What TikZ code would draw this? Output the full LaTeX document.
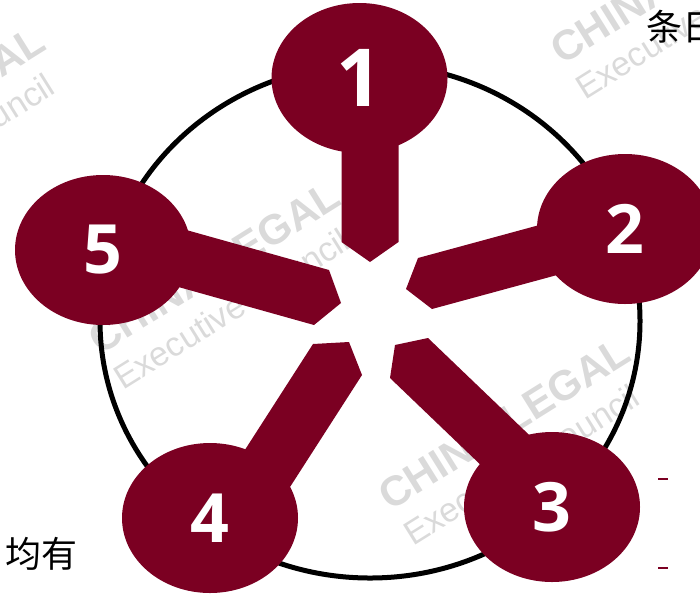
\documentclass[tikz,border=0pt]{standalone}
\usepackage{fontspec}
\usetikzlibrary{shapes.geometric}
\newfontfamily\numfont{Open Sans}
\newfontfamily\wmfont{Liberation Sans}
\newfontfamily\cjk{Noto Sans CJK SC}
\definecolor{wine}{RGB}{123,0,34}
\definecolor{wmgray}{RGB}{218,218,218}
\begin{document}
\begin{tikzpicture}[x=1pt,y=-1pt,
  wmbig/.style={anchor=base west, rotate=32, inner sep=0, text=wmgray,
    font=\wmfont\bfseries\fontsize{42}{42}\selectfont},
  wmsmall/.style={anchor=base west, rotate=32, inner sep=0, text=wmgray,
    font=\wmfont\fontsize{34}{34}\selectfont},
  pin/.style={fill=wine, draw=none},
  blob/.style={ellipse, fill=wine, draw=none, inner sep=0, text=white,
    minimum width=176pt, minimum height=150pt,
    font=\numfont\bfseries\fontsize{68}{68}\selectfont},
  ring/.style={draw=black, line width=5pt},
  cjktext/.style={inner sep=0, text=black, font=\cjk\fontsize{36}{36}\selectfont},
  bullet/.style={fill=wine, draw=none, inner sep=0, minimum width=10pt, minimum height=2.8pt}
]
\useasboundingbox (0,0) rectangle (700,598);
\clip (0,0) rectangle (700,598);
% watermark
\node[wmbig] (w0a) at (100,356) {CHINA LEGAL};
\node[wmsmall] (w0b) at (123,391) {Executive Council};
\node[wmbig] (w1a) at (390,512) {CHINA LEGAL};
\node[wmsmall] (w1b) at (413,547) {Executive Council};
\node[wmbig] (w2a) at (-195,201) {CHINA LEGAL};
\node[wmsmall] (w2b) at (-172,236) {Executive Council};
\node[wmbig] (w3a) at (562,66) {CHINA LEGAL};
\node[wmsmall] (w3b) at (585,101) {Executive Council};
% ring
\draw[ring] (370,321) ellipse [x radius=270pt, y radius=257pt];
% pins
\fill[pin] (341.5,125) -- (341.5,242) -- (370,262) -- (398.5,242) -- (398.5,125) -- cycle;
\fill[pin] (591.7,210.8) -- (418,258) -- (406,289) -- (432,309) -- (605.7,261.8) -- cycle;
\fill[pin] (498,481.5) -- (390,378) -- (395,345) -- (428,338) -- (536,441.5) -- cycle;
\fill[pin] (232,470) -- (313,344) -- (349,342) -- (362,375) -- (283.7,496.8) -- cycle;
\fill[pin] (136.4,216) -- (329,270) -- (341,303) -- (314,325) -- (121.4,271) -- cycle;
% heads
\node[blob, font=\numfont\bfseries\fontsize{80}{80}\selectfont] (n1) at (359.5,78) {1};
\node[blob] (n2) at (625,229) {2};
\node[blob] (n3) at (552,507) {3};
\node[blob] (n4) at (210,518) {4};
\node[blob] (n5) at (103,250) {5};
% edge texts
\node[cjktext, anchor=west] (t1) at (646,27) {条日};
\node[cjktext, anchor=east] (t2) at (78,554) {均有};
\node[bullet] (d1) at (663,479) {};
\node[bullet] (d2) at (663,568) {};
\end{tikzpicture}
\end{document}
